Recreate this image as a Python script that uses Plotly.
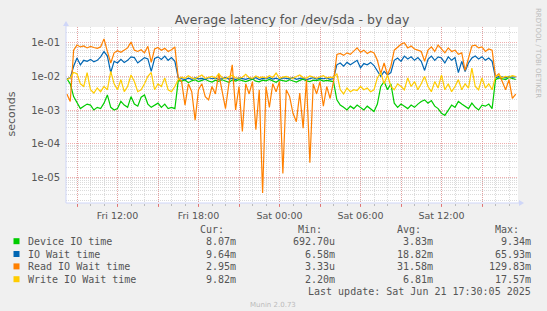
import plotly.graph_objects as go
import pandas as pd

# ---------------- data (milliseconds, 15-minute samples) ----------------
start_time = "2025-06-20 08:15"
sample_step = "15min"

device_io_ms = [
    8.5, 6,
    2.5, 1.6, 1.1, 1.3, 1.5, 1.4, 1.0, 1.2, 1.1, 1.6, 2.8, 1.2, 1.0, 1.1, 1.8, 1.4, 1.2, 2.5, 1.5, 1.3,
    2.4, 2.8, 1.5, 1.2, 1.4, 1.6, 1.2, 1.5, 1.1, 1.2, 1.1,
    7.5, 7.2, 7.8, 6.5, 7.4, 7.9, 7.0, 7.6, 8.2, 7.3, 6.8, 7.7, 7.1, 7.9, 7.4, 6.6, 7.8, 7.2, 8.0, 7.5,
    7.0, 7.6, 8.3, 7.2, 6.9, 7.7, 7.4, 8.1, 7.3, 6.7, 7.8, 7.5, 7.1, 7.9, 7.4, 6.8, 7.6, 8.2, 7.3, 7.0,
    7.7, 7.5, 8.0, 7.2, 7.6, 7.4, 7.0,
    2, 1.4, 1.2, 1.0, 1.3, 1.1, 1.4, 1.2, 1.0, 1.3, 1.1, 0.9, 1.5, 5, 7, 4, 6, 1.6, 1.2, 1.5,
    1.3, 1.1, 1.4, 1.2, 1.5, 1.8, 2.0, 1.6, 1.9, 1.3, 1.1, 0.8, 0.69, 1.0, 1.4, 1.2, 1.8, 1.5, 1.3, 1.1,
    1.6, 1.2, 1.0, 1.4, 1.3, 1.5, 1.1,
    8, 9, 8.5, 8, 9.3, 8.5, 8.07,
]
io_wait_ms = [
    8.5, 9,
    20, 35, 22, 30, 28, 32, 27, 30, 38, 55, 40, 13, 28, 25, 32, 26, 30, 38, 36, 25,
    30, 36, 33, 14, 34, 38, 32, 40, 30, 36, 28,
    9, 8.5, 8, 8.8, 8.2, 9, 8.4, 8.7, 8, 9.2, 8.5, 8.9, 8.1, 8.6, 9.3, 8.3, 8.8, 8.0, 9.0, 8.6,
    8.2, 8.9, 8.4, 9.1, 8.0, 8.7, 8.5, 9.2, 8.3, 8.8, 8.1, 9.0, 8.6, 8.4, 9.3, 8.2, 8.7, 8.9, 8.0, 8.6,
    9.1, 8.3, 8.8, 8.5, 9.0, 8.2, 8.6,
    22, 25, 20, 26, 22, 25, 30, 18, 24, 22, 26, 21, 15, 10, 14, 11, 13, 30, 35, 28,
    40, 33, 38, 30, 36, 28, 15, 32, 40, 30, 38, 35, 25, 38, 30, 36, 13, 28, 14, 25,
    35, 40, 33, 38, 30, 35, 28,
    9, 10, 9.5, 9, 10, 9.5, 9.64,
]
read_wait_ms = [
    3.0, 1.8,
    60, 85, 75, 80, 70, 78, 72, 68, 75, 130, 55, 25, 50, 58, 52, 62, 70, 105, 60, 55,
    62, 50, 78, 26, 65, 72, 60, 68, 55, 62, 75,
    9, 7, 1.4, 6, 3.5, 0.5, 4, 6, 2.5, 2.0, 5, 3, 12, 4, 1.1, 6, 22, 1.0, 5, 0.23,
    6, 3, 7, 0.26, 4, 0.0034, 5, 1.2, 6, 3.5, 7, 0.013, 4, 2.5, 0.8, 0.45, 3.2, 0.29, 8, 0.027,
    6, 3, 7, 1.3, 5, 2.2, 7,
    45, 48, 42, 50, 45, 55, 70, 52, 60, 48, 55, 50, 30, 12, 25, 11, 20, 60, 75, 90,
    100, 70, 80, 65, 60, 55, 28, 60, 75, 55, 85, 65, 50, 70, 55, 60, 45, 50, 15, 35,
    80, 85, 70, 75, 55, 65, 60,
    10, 12, 7, 4, 8, 2.2, 2.95,
]
write_wait_ms = [
    8, 9,
    13, 12, 6, 5, 13, 4, 3.2, 4.5, 3.5, 5, 4, 14, 6, 4, 8, 3.5, 5, 11, 7, 3.5,
    4, 6, 10, 13, 4, 6, 5, 9, 4, 3.5, 5,
    8, 9.5, 8.8, 10.5, 9, 8.5, 9.8, 11, 8.7, 9.3, 10, 8.9, 12, 9.1, 8.6, 9.7, 10.8, 9, 8.8, 9.4,
    11.5, 9.2, 8.7, 10.2, 9, 9.6, 8.9, 10.5, 9.3, 12.5, 8.8, 9.5, 10, 9.1, 8.7, 9.9, 11, 9.2, 8.9, 10.3,
    9.4, 8.8, 9.7, 10.5, 9, 9.5, 9.2,
    12, 4, 3, 4.5, 3.5, 4, 3.8, 5, 4, 4.5, 3.5, 4, 9, 13, 6, 11, 5, 4, 6, 5,
    4, 9, 5, 7, 4, 6, 10, 5, 3.5, 7, 4.5, 11, 4, 6, 3.5, 5, 8, 4, 6, 4.5,
    17.5, 5, 4, 9, 4.5, 6, 4,
    10, 11, 9, 10, 9.5, 10.5, 9.82,
]

series_names = ["Device IO time", "IO Wait time", "Read IO Wait time", "Write IO Wait time"]
series_colors = ["#00CC00", "#0066B3", "#FF8000", "#FFCC00"]
cur_vals = ["8.07m", "9.64m", "2.95m", "9.82m"]
min_vals = ["692.70u", "6.58m", "3.33u", "2.20m"]
avg_vals = ["3.83m", "18.82m", "31.58m", "6.81m"]
max_vals = ["9.34m", "65.93m", "129.83m", "17.57m"]

y_tick_vals = [1e-5, 1e-4, 1e-3, 1e-2, 1e-1]
y_tick_text = ["1e-05", "1e-04", "1e-03", "1e-02", "1e-01"]

# ---------------- figure ----------------
all_series = [device_io_ms, io_wait_ms, read_wait_ms, write_wait_ms]
n = len(device_io_ms)
assert all(len(s) == n for s in all_series), [len(s) for s in all_series]
times = pd.date_range(start_time, periods=n, freq=sample_step)

W, H = 547, 311
L, R, T, B = 66, 518, 27, 203  # plot area in pixels
pw, ph = R - L, B - T


def px(x):
    return (x - L) / pw


def py(y):
    return (B - y) / ph


fig = go.Figure()
for name, color, vals in zip(series_names, series_colors, all_series):
    fig.add_trace(go.Scatter(
        x=times, y=[v / 1000.0 for v in vals], mode="lines", name=name,
        line=dict(color=color, width=1.2), showlegend=False,
    ))

tick_times = pd.date_range("2025-06-20 09:00", "2025-06-21 15:00", freq="3h")
tick_text = [t.strftime("%a %H:%M") if t.hour % 6 == 0 else "" for t in tick_times]
minor_y = [d * 10.0 ** e for e in range(-7, 1) for d in range(2, 10)]

MAJ = "rgba(230,120,120,0.6)"
MIN = "rgba(190,190,190,0.55)"
TXT = "#555555"
AXC = "#CFD6F8"

fig.update_layout(
    width=W, height=H,
    margin=dict(l=L, r=W - R, t=T, b=H - B, pad=0),
    paper_bgcolor="#F0F0F0", plot_bgcolor="#FFFFFF",
    showlegend=False,
    font=dict(family="DejaVu Sans", color=TXT, size=10),
    title=dict(text="Average latency for /dev/sda - by day", x=0.5, xref="paper",
               xanchor="center", y=1 - 20 / H, yanchor="middle",
               font=dict(size=12.5, color=TXT, family="DejaVu Sans")),
    xaxis=dict(
        type="date", range=["2025-06-20 08:11:07", "2025-06-21 17:40:00"],
        tickmode="array", tickvals=list(tick_times), ticktext=tick_text,
        showgrid=True, gridcolor=MAJ, griddash="1px,1px", gridwidth=1,
        ticks="outside", ticklen=3, tickcolor="rgba(230,100,100,0.8)", tickwidth=1,
        tickfont=dict(size=9.5, color=TXT), ticklabelstandoff=1,
        minor=dict(tickmode="linear", tick0="2025-06-20 00:00", dtick=3600000,
                   showgrid=True, gridcolor=MIN, griddash="1px,1px", gridwidth=1,
                   ticks="outside", ticklen=2, tickcolor="#BBBBBB"),
        showline=False, zeroline=False,
    ),
    yaxis=dict(
        type="log", range=[-5.764, -0.533],
        tickmode="array", tickvals=y_tick_vals, ticktext=y_tick_text,
        showgrid=True, gridcolor=MAJ, griddash="1px,1px", gridwidth=1,
        ticks="", tickfont=dict(size=10, color=TXT), ticklabelstandoff=5,
        minor=dict(tickmode="array", tickvals=minor_y, showgrid=True, gridcolor=MIN,
                   griddash="1px,1px", gridwidth=1, ticks=""),
        showline=False, zeroline=False,
    ),
)

shapes = []
# axes with arrows
shapes.append(dict(type="line", xref="paper", yref="paper", x0=px(L), x1=px(R + 4),
                   y0=py(B), y1=py(B), line=dict(color=AXC, width=1)))
shapes.append(dict(type="line", xref="paper", yref="paper", x0=px(L), x1=px(L),
                   y0=py(B), y1=py(T - 4), line=dict(color=AXC, width=1)))
shapes.append(dict(type="path", xref="paper", yref="paper",
                   path=f"M {px(L-3)} {py(T-1)} L {px(L+3)} {py(T-1)} L {px(L)} {py(T-6)} Z",
                   fillcolor=AXC, line=dict(color=AXC, width=0)))
shapes.append(dict(type="path", xref="paper", yref="paper",
                   path=f"M {px(R+1)} {py(B-3)} L {px(R+1)} {py(B+3)} L {px(R+6)} {py(B)} Z",
                   fillcolor=AXC, line=dict(color=AXC, width=0)))

annotations = []
MONO = "DejaVu Sans Mono"
row_y = [241.2, 254.0, 266.4, 279.2]
col_right = [238.3, 336.7, 435.4, 533.1]
headers = ["Cur:", "Min:", "Avg:", "Max:"]
for hx, h in zip(col_right, headers):
    annotations.append(dict(text=h, x=px(hx - 12.6), y=py(229), xref="paper", yref="paper",
                            xanchor="right", yanchor="middle", showarrow=False,
                            font=dict(family=MONO, size=10, color=TXT)))
for i, (name, color) in enumerate(zip(series_names, series_colors)):
    yy = row_y[i]
    shapes.append(dict(type="rect", xref="paper", yref="paper",
                       x0=px(13.5), x1=px(19.5), y0=py(yy - 3), y1=py(yy + 3),
                       fillcolor=color, line=dict(width=0)))
    annotations.append(dict(text=name, x=px(26), y=py(yy), xref="paper", yref="paper",
                            xanchor="left", yanchor="middle", showarrow=False,
                            font=dict(family=MONO, size=10, color=TXT)))
    for cx, vals in zip(col_right, [cur_vals, min_vals, avg_vals, max_vals]):
        annotations.append(dict(text=vals[i], x=px(cx), y=py(yy), xref="paper", yref="paper",
                                xanchor="right", yanchor="middle", showarrow=False,
                                font=dict(family=MONO, size=10, color=TXT)))
annotations.append(dict(text="Last update: Sat Jun 21 17:30:05 2025", x=px(533.1), y=py(291.8),
                        xref="paper", yref="paper", xanchor="right", yanchor="middle",
                        showarrow=False, font=dict(family=MONO, size=10, color=TXT)))
annotations.append(dict(text="Munin 2.0.73", x=px(273), y=py(304.5), xref="paper", yref="paper",
                        xanchor="center", yanchor="middle", showarrow=False,
                        font=dict(family="DejaVu Sans", size=7, color="#BBBBBB")))
annotations.append(dict(text="RRDTOOL / TOBI OETIKER", x=px(538), y=py(53), xref="paper",
                        yref="paper", xanchor="center", yanchor="middle", textangle=90,
                        showarrow=False, font=dict(family="DejaVu Sans", size=7, color="#BBBBBB")))
annotations.append(dict(text="seconds", x=px(11.5), y=py(114), xref="paper", yref="paper",
                        xanchor="center", yanchor="middle", textangle=-90, showarrow=False,
                        font=dict(family="DejaVu Sans", size=11, color=TXT)))

fig.update_layout(shapes=shapes, annotations=annotations)
fig.write_html("out.html")
